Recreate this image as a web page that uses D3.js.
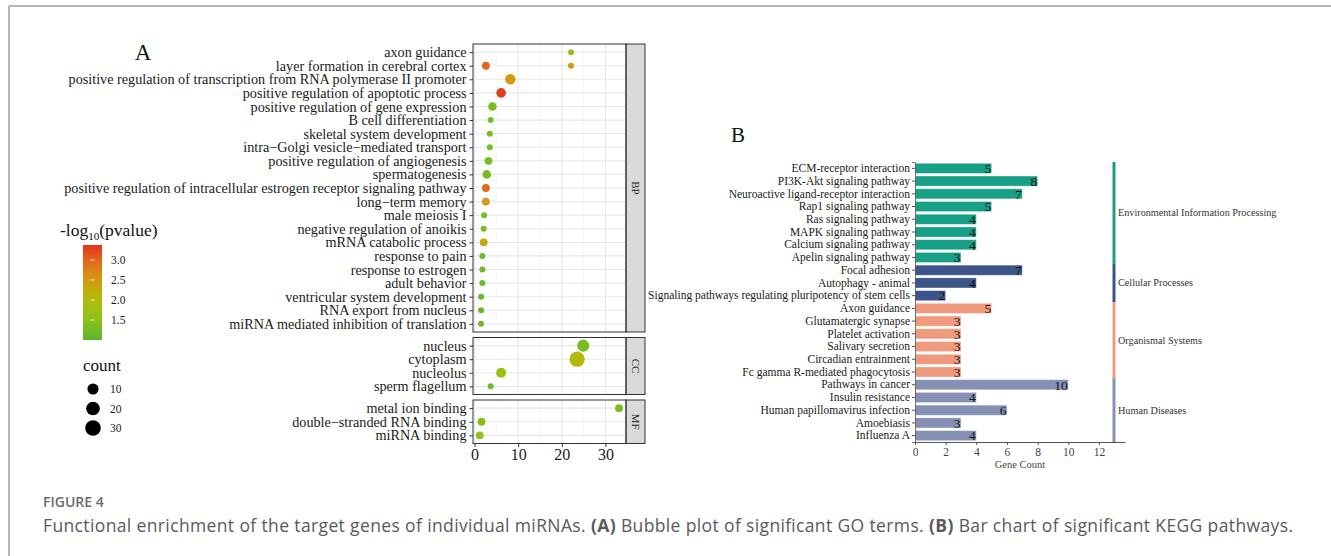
<!DOCTYPE html>
<html>
<head>
<meta charset="utf-8">
<script src="https://cdn.jsdelivr.net/npm/d3@7"></script>
<style>
body { margin: 0; background: #fff; }
svg text { font-family: "Liberation Serif", "Times New Roman", serif; }
svg text.cap { font-family: "Open Sans", sans-serif; }
</style>
</head>
<body>
<svg id="chart" width="1331" height="556"></svg>
<script>
// ---- panel A: GO terms (order top to bottom)
const bpTerms = ["axon guidance", "layer formation in cerebral cortex",
  "positive regulation of transcription from RNA polymerase II promoter",
  "positive regulation of apoptotic process", "positive regulation of gene expression",
  "B cell differentiation", "skeletal system development",
  "intra\u2212Golgi vesicle\u2212mediated transport", "positive regulation of angiogenesis",
  "spermatogenesis", "positive regulation of intracellular estrogen receptor signaling pathway",
  "long\u2212term memory", "male meiosis I", "negative regulation of anoikis",
  "mRNA catabolic process", "response to pain", "response to estrogen", "adult behavior",
  "ventricular system development", "RNA export from nucleus",
  "miRNA mediated inhibition of translation"];
const ccTerms = ["nucleus", "cytoplasm", "nucleolus", "sperm flagellum"];
const mfTerms = ["metal ion binding", "double\u2212stranded RNA binding", "miRNA binding"];

// one entry per bubble
const goPointTerm = [bpTerms[0], bpTerms[1], bpTerms[1], bpTerms[2], bpTerms[3], bpTerms[4],
  bpTerms[5], bpTerms[6], bpTerms[7], bpTerms[8], bpTerms[9], bpTerms[10], bpTerms[11],
  bpTerms[12], bpTerms[13], bpTerms[14], bpTerms[15], bpTerms[16], bpTerms[17], bpTerms[18],
  bpTerms[19], bpTerms[20],
  ccTerms[0], ccTerms[1], ccTerms[2], ccTerms[3],
  mfTerms[0], mfTerms[1], mfTerms[2]];
const goPointX = [22.1, 2.6, 22.1, 8.2, 6.1, 4.1, 3.7, 3.5, 3.5, 3.2, 2.8, 2.6, 2.6, 2.2, 2.1,
  2.1, 1.8, 1.8, 1.8, 1.5, 1.5, 1.5,
  24.9, 23.5, 6.1, 3.7,
  33.1, 1.6, 1.2];
const goPointCount = [2, 3, 2, 8, 6, 4, 2, 2, 2, 3, 4, 3, 3, 2, 2, 3, 2, 2, 2, 2, 2, 2,
  13, 28, 7, 2,
  3, 3, 3];
const goPointLogP = [1.6, 3.0, 2.5, 2.5, 3.3, 1.3, 1.25, 1.25, 1.25, 1.3, 1.25, 2.95, 2.5, 1.25,
  1.3, 2.3, 1.2, 1.2, 1.2, 1.15, 1.15, 1.15,
  1.3, 2.05, 1.7, 1.2,
  1.3, 1.4, 1.5];
const xTicksA = [0, 10, 20, 30];
const colorTicks = [1.5, 2.0, 2.5, 3.0];
const sizeTicks = [10, 20, 30];

// ---- panel B: KEGG pathways
const keggPathways = ["ECM-receptor interaction", "PI3K-Akt signaling pathway",
  "Neuroactive ligand-receptor interaction", "Rap1 signaling pathway", "Ras signaling pathway",
  "MAPK signaling pathway", "Calcium signaling pathway", "Apelin signaling pathway",
  "Focal adhesion", "Autophagy - animal", "Signaling pathways regulating pluripotency of stem cells",
  "Axon guidance", "Glutamatergic synapse", "Platelet activation", "Salivary secretion",
  "Circadian entrainment", "Fc gamma R-mediated phagocytosis",
  "Pathways in cancer", "Insulin resistance", "Human papillomavirus infection",
  "Amoebiasis", "Influenza A"];
const keggCounts = [5, 8, 7, 5, 4, 4, 4, 3, 7, 4, 2, 5, 3, 3, 3, 3, 3, 10, 4, 6, 3, 4];
const keggClass = ["Environmental Information Processing", "Environmental Information Processing",
  "Environmental Information Processing", "Environmental Information Processing",
  "Environmental Information Processing", "Environmental Information Processing",
  "Environmental Information Processing", "Environmental Information Processing",
  "Cellular Processes", "Cellular Processes", "Cellular Processes",
  "Organismal Systems", "Organismal Systems", "Organismal Systems", "Organismal Systems",
  "Organismal Systems", "Organismal Systems",
  "Human Diseases", "Human Diseases", "Human Diseases", "Human Diseases", "Human Diseases"];
const keggClassNames = ["Environmental Information Processing", "Cellular Processes",
  "Organismal Systems", "Human Diseases"];
const xTicksB = [0, 2, 4, 6, 8, 10, 12];

const svg = d3.select("#chart");

// page frame
svg.append("line").attr("x1", 9).attr("x2", 1331).attr("y1", 6).attr("y2", 6)
  .attr("stroke", "#b5b5b5").attr("stroke-width", 2);
svg.append("line").attr("x1", 9).attr("x2", 9).attr("y1", 6).attr("y2", 556)
  .attr("stroke", "#b5b5b5").attr("stroke-width", 2);

// ================= Panel A =================
const colorScale = d3.scaleLinear()
  .domain([1.0, 1.5, 2.0, 2.5, 3.0, 3.375])
  .range(["#5db52d", "#8cc21c", "#b0bd0c", "#d49a0e", "#e3661a", "#e4321f"])
  .interpolate(d3.interpolateRgb);
const rNorm = d3.scaleLinear().domain([0, 1]).range([3, 8]);
const cMin = 2, cMax = 32;
const radius = c => rNorm(Math.sqrt(Math.max(0, c - cMin) / (cMax - cMin)));

const xA = d3.scaleLinear().domain([-0.35, 34.7]).range([473, 626]);
const panels = [
  { ont: "BP", terms: bpTerms, top: 44, bottom: 332 },
  { ont: "CC", terms: ccTerms, top: 337.5, bottom: 394.5 },
  { ont: "MF", terms: mfTerms, top: 400, bottom: 443.5 }
];
const termPanel = {};
panels.forEach(p => {
  p.y = d3.scalePoint().domain(p.terms).range([p.top, p.bottom]).padding(0.6);
  p.terms.forEach(t => termPanel[t] = p);
});

const gA = svg.append("g");
panels.forEach(p => {
  const g = gA.append("g");
  // minor + major grid
  [5, 15, 25].forEach(v => g.append("line")
    .attr("x1", xA(v)).attr("x2", xA(v)).attr("y1", p.top).attr("y2", p.bottom)
    .attr("stroke", "#f2f2f2").attr("stroke-width", 0.6));
  xTicksA.forEach(v => g.append("line")
    .attr("x1", xA(v)).attr("x2", xA(v)).attr("y1", p.top).attr("y2", p.bottom)
    .attr("stroke", "#e8e8e8").attr("stroke-width", 1.1));
  p.terms.forEach(t => g.append("line")
    .attr("x1", 473).attr("x2", 626).attr("y1", p.y(t)).attr("y2", p.y(t))
    .attr("stroke", "#e8e8e8").attr("stroke-width", 1.1));

  // y axis labels and ticks
  const ya = g.append("g").attr("transform", "translate(473,0)")
    .call(d3.axisLeft(p.y).tickSize(3.5).tickPadding(3));
  ya.select(".domain").remove();
  ya.selectAll(".tick line").attr("stroke", "#333");
  ya.selectAll(".tick text").attr("font-size", 14.2).attr("fill", "#1a1a1a")
    .attr("font-family", "Liberation Serif, Times New Roman, serif");

  // strip
  g.append("rect").attr("x", 626).attr("y", p.top).attr("width", 19)
    .attr("height", p.bottom - p.top).attr("fill", "#d9d9d9")
    .attr("stroke", "#333").attr("stroke-width", 1);
  g.append("text")
    .attr("transform", `translate(${635.5},${(p.top + p.bottom) / 2}) rotate(90)`)
    .attr("text-anchor", "middle").attr("dy", "0.35em")
    .attr("font-size", 11).attr("fill", "#1a1a1a").text(p.ont);
});

// bubbles
const goIdx = d3.range(goPointTerm.length);
gA.append("g").selectAll("circle")
  .data(goIdx)
  .join("circle")
  .attr("cx", i => xA(goPointX[i]))
  .attr("cy", i => termPanel[goPointTerm[i]].y(goPointTerm[i]))
  .attr("r", i => radius(goPointCount[i]))
  .attr("fill", i => colorScale(goPointLogP[i]));

// panel borders
panels.forEach(p => {
  gA.append("rect").attr("x", 473).attr("y", p.top).attr("width", 626 - 473)
    .attr("height", p.bottom - p.top).attr("fill", "none")
    .attr("stroke", "#333").attr("stroke-width", 1);
});

// x axis
const xa = gA.append("g").attr("transform", `translate(0,${panels[2].bottom})`)
  .call(d3.axisBottom(xA).tickValues(xTicksA).tickSize(3.5).tickPadding(2));
xa.select(".domain").remove();
xa.selectAll(".tick line").attr("stroke", "#333");
xa.selectAll(".tick text").attr("font-size", 16).attr("fill", "#1a1a1a")
  .attr("font-family", "Liberation Serif, Times New Roman, serif");

svg.append("text").attr("x", 143).attr("y", 60).attr("text-anchor", "middle")
  .attr("font-size", 23).attr("fill", "#111").text("A");

// colour legend
const lt = svg.append("text").attr("x", 60).attr("y", 236).attr("font-size", 17.5).attr("fill", "#111");
lt.append("tspan").text("-log");
lt.append("tspan").attr("font-size", 11).attr("dy", 4).text("10");
lt.append("tspan").attr("dy", -4).text("(pvalue)");

const defs = svg.append("defs");
const grad = defs.append("linearGradient").attr("id", "cgrad")
  .attr("x1", 0).attr("x2", 0).attr("y1", 1).attr("y2", 0);
const cbar = d3.scaleLinear().domain([1.0, 3.375]).range([340, 245]);
d3.range(0, 1.0001, 0.05).forEach(t => {
  const v = 1.0 + t * 2.375;
  grad.append("stop").attr("offset", t).attr("stop-color", colorScale(v));
});
svg.append("rect").attr("x", 83).attr("y", 245).attr("width", 19).attr("height", 95)
  .attr("fill", "url(#cgrad)");
colorTicks.forEach(v => {
  svg.append("line").attr("x1", 90.5).attr("x2", 94.5).attr("y1", cbar(v)).attr("y2", cbar(v))
    .attr("stroke", "#fff").attr("stroke-opacity", 0.8).attr("stroke-width", 1);
  svg.append("text").attr("x", 111).attr("y", cbar(v)).attr("dy", "0.35em")
    .attr("font-size", 11.5).attr("fill", "#1a1a1a").text(v.toFixed(1));
});

// size legend
svg.append("text").attr("x", 83).attr("y", 371).attr("font-size", 17).attr("fill", "#111").text("count");
const sizeY = d3.scalePoint().domain(sizeTicks).range([389, 428]);
sizeTicks.forEach(v => {
  svg.append("circle").attr("cx", 93).attr("cy", sizeY(v)).attr("r", radius(v)).attr("fill", "#000");
  svg.append("text").attr("x", 110).attr("y", sizeY(v)).attr("dy", "0.35em")
    .attr("font-size", 11.5).attr("fill", "#1a1a1a").text(v);
});

// ================= Panel B =================
const xB = d3.scaleLinear().domain([0, 13.7]).range([915, 1125]);
const yB = d3.scaleBand().domain(keggPathways).range([162, 442]).paddingInner(0.2).paddingOuter(0.1);
const classColor = d3.scaleOrdinal().domain(keggClassNames)
  .range(["#17a085", "#3c5488", "#f09a7d", "#8491b4"]);

const gB = svg.append("g");
gB.selectAll("rect.bar")
  .data(d3.range(keggPathways.length))
  .join("rect").attr("class", "bar")
  .attr("x", xB(0))
  .attr("y", i => yB(keggPathways[i]))
  .attr("width", i => xB(keggCounts[i]) - xB(0))
  .attr("height", yB.bandwidth())
  .attr("fill", i => classColor(keggClass[i]))
  .attr("stroke", "#fff").attr("stroke-opacity", 0.5).attr("stroke-width", 0.8);

gB.selectAll("text.val")
  .data(d3.range(keggPathways.length))
  .join("text").attr("class", "val")
  .attr("x", i => xB(keggCounts[i]) - 0.5)
  .attr("y", i => yB(keggPathways[i]) + yB.bandwidth() / 2)
  .attr("dy", "0.36em").attr("text-anchor", "end")
  .attr("font-size", 13.5).attr("fill", "#111")
  .text(i => keggCounts[i]);

const yaB = gB.append("g").attr("transform", "translate(915,0)")
  .call(d3.axisLeft(yB).tickSize(3).tickPadding(2));
yaB.select(".domain").attr("stroke", "#555").attr("stroke-width", 0.8);
yaB.selectAll(".tick line").attr("stroke", "#555");
yaB.selectAll(".tick text").attr("font-size", 11.5).attr("fill", "#1a1a1a")
  .attr("font-family", "Liberation Serif, Times New Roman, serif");

const xaB = gB.append("g").attr("transform", "translate(0,442)")
  .call(d3.axisBottom(xB).tickValues(xTicksB).tickSize(3).tickPadding(3).tickSizeOuter(0));
xaB.select(".domain").attr("stroke", "#555");
xaB.selectAll(".tick line").attr("stroke", "#555");
xaB.selectAll(".tick text").attr("font-size", 11.5).attr("fill", "#444")
  .attr("font-family", "Liberation Serif, Times New Roman, serif");
gB.append("text").attr("x", 1020).attr("y", 468).attr("text-anchor", "middle")
  .attr("font-size", 10.5).attr("fill", "#444").text("Gene Count");

// class side bar
const fullY = d3.scaleBand().domain(keggPathways).range([162, 442]);
keggClassNames.forEach(cn => {
  const rows = keggPathways.filter((p, i) => keggClass[i] === cn);
  const y0 = fullY(rows[0]);
  const y1 = fullY(rows[rows.length - 1]) + fullY.bandwidth();
  gB.append("line").attr("x1", 1114).attr("x2", 1114).attr("y1", y0).attr("y2", y1)
    .attr("stroke", classColor(cn)).attr("stroke-width", 3);
  gB.append("text").attr("x", 1118).attr("y", (y0 + y1) / 2).attr("dy", "0.35em")
    .attr("font-size", 10.2).attr("fill", "#333").text(cn);
});

svg.append("text").attr("x", 738).attr("y", 142).attr("text-anchor", "middle")
  .attr("font-size", 21).attr("fill", "#111").text("B");

// ================= caption =================
svg.append("text").attr("class", "cap").attr("x", 43).attr("y", 507)
  .attr("font-size", 14).attr("font-weight", 600).attr("fill", "#6b6b6b").text("FIGURE 4");
const cap = svg.append("text").attr("class", "cap").attr("x", 43).attr("y", 532)
  .attr("font-size", 17.5).attr("fill", "#5a5a5a")
  .attr("textLength", 1250).attr("lengthAdjust", "spacing");
cap.append("tspan").text("Functional enrichment of the target genes of individual miRNAs. ");
cap.append("tspan").attr("font-weight", 700).text("(A)");
cap.append("tspan").text(" Bubble plot of significant GO terms. ");
cap.append("tspan").attr("font-weight", 700).text("(B)");
cap.append("tspan").text(" Bar chart of significant KEGG pathways.");
</script>
</body>
</html>
